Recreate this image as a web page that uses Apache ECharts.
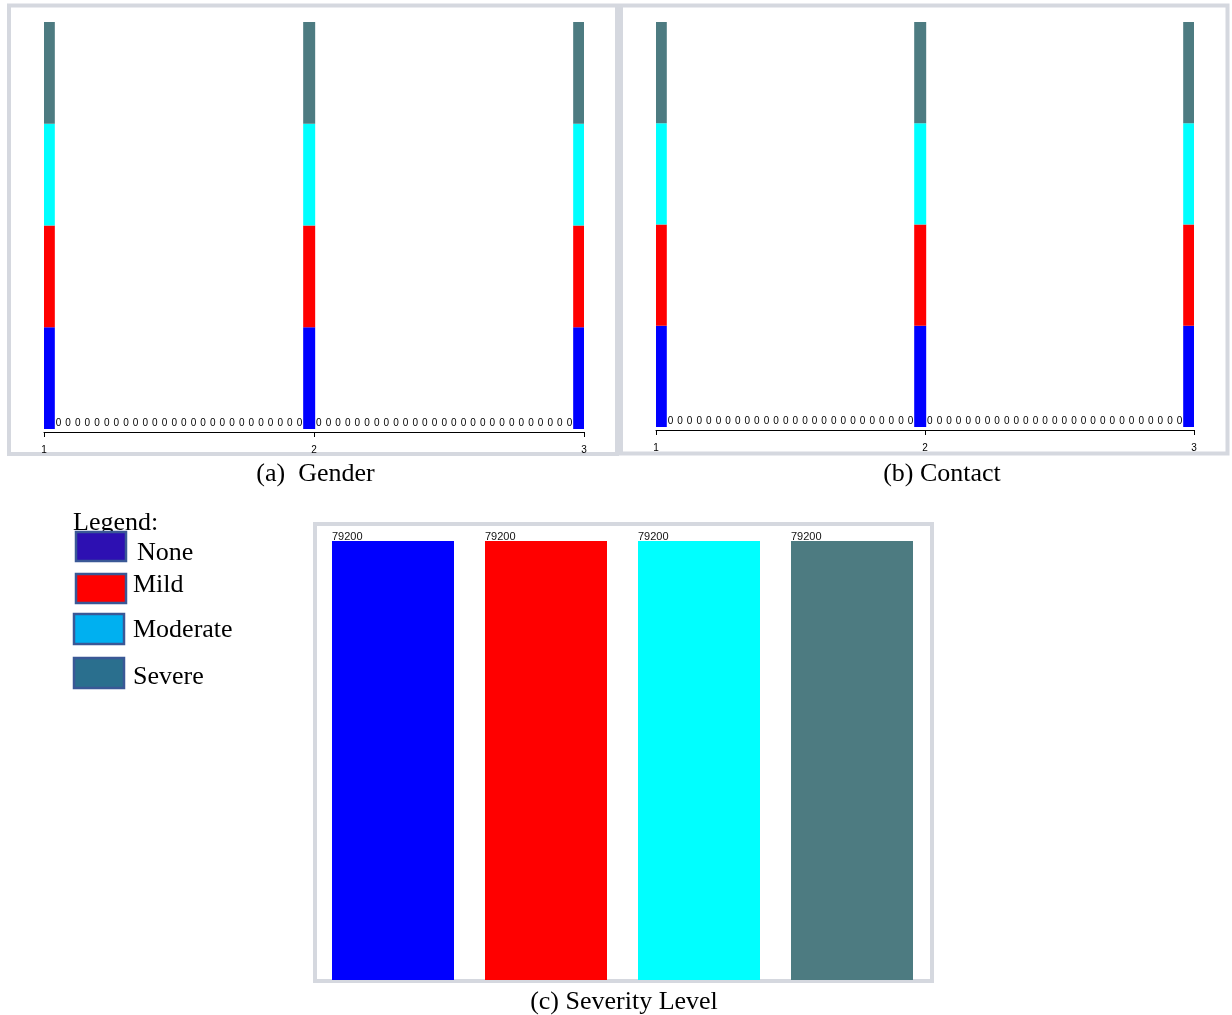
<!DOCTYPE html>
<html>
<head>
<meta charset="utf-8">
<title>Severity by Gender / Contact</title>
<script src="https://cdn.jsdelivr.net/npm/echarts@6/dist/echarts.min.js"></script>
<style>
  html, body { margin: 0; padding: 0; background: #fff; }
  #main { width: 1232px; height: 1015px; }
</style>
</head>
<body>
<div id="main"></div>
<script>
  // tick labels of the two histograms
  const groupLabels = ['1', '2', '3']

  // bin counts (56 bins between 1 and 3), one array per severity level
  const genderNone = [26400,
    0, 0, 0, 0, 0, 0, 0, 0, 0, 0, 0, 0, 0, 0, 0, 0, 0, 0, 0, 0, 0, 0, 0, 0, 0, 0,
    26400,
    0, 0, 0, 0, 0, 0, 0, 0, 0, 0, 0, 0, 0, 0, 0, 0, 0, 0, 0, 0, 0, 0, 0, 0, 0, 0, 0,
    26400]
  const genderMild = [26400,
    0, 0, 0, 0, 0, 0, 0, 0, 0, 0, 0, 0, 0, 0, 0, 0, 0, 0, 0, 0, 0, 0, 0, 0, 0, 0,
    26400,
    0, 0, 0, 0, 0, 0, 0, 0, 0, 0, 0, 0, 0, 0, 0, 0, 0, 0, 0, 0, 0, 0, 0, 0, 0, 0, 0,
    26400]
  const genderModerate = [26400,
    0, 0, 0, 0, 0, 0, 0, 0, 0, 0, 0, 0, 0, 0, 0, 0, 0, 0, 0, 0, 0, 0, 0, 0, 0, 0,
    26400,
    0, 0, 0, 0, 0, 0, 0, 0, 0, 0, 0, 0, 0, 0, 0, 0, 0, 0, 0, 0, 0, 0, 0, 0, 0, 0, 0,
    26400]
  const genderSevere = [26400,
    0, 0, 0, 0, 0, 0, 0, 0, 0, 0, 0, 0, 0, 0, 0, 0, 0, 0, 0, 0, 0, 0, 0, 0, 0, 0,
    26400,
    0, 0, 0, 0, 0, 0, 0, 0, 0, 0, 0, 0, 0, 0, 0, 0, 0, 0, 0, 0, 0, 0, 0, 0, 0, 0, 0,
    26400]

  const contactNone = [26400,
    0, 0, 0, 0, 0, 0, 0, 0, 0, 0, 0, 0, 0, 0, 0, 0, 0, 0, 0, 0, 0, 0, 0, 0, 0, 0,
    26400,
    0, 0, 0, 0, 0, 0, 0, 0, 0, 0, 0, 0, 0, 0, 0, 0, 0, 0, 0, 0, 0, 0, 0, 0, 0, 0, 0,
    26400]
  const contactMild = [26400,
    0, 0, 0, 0, 0, 0, 0, 0, 0, 0, 0, 0, 0, 0, 0, 0, 0, 0, 0, 0, 0, 0, 0, 0, 0, 0,
    26400,
    0, 0, 0, 0, 0, 0, 0, 0, 0, 0, 0, 0, 0, 0, 0, 0, 0, 0, 0, 0, 0, 0, 0, 0, 0, 0, 0,
    26400]
  const contactModerate = [26400,
    0, 0, 0, 0, 0, 0, 0, 0, 0, 0, 0, 0, 0, 0, 0, 0, 0, 0, 0, 0, 0, 0, 0, 0, 0, 0,
    26400,
    0, 0, 0, 0, 0, 0, 0, 0, 0, 0, 0, 0, 0, 0, 0, 0, 0, 0, 0, 0, 0, 0, 0, 0, 0, 0, 0,
    26400]
  const contactSevere = [26400,
    0, 0, 0, 0, 0, 0, 0, 0, 0, 0, 0, 0, 0, 0, 0, 0, 0, 0, 0, 0, 0, 0, 0, 0, 0, 0,
    26400,
    0, 0, 0, 0, 0, 0, 0, 0, 0, 0, 0, 0, 0, 0, 0, 0, 0, 0, 0, 0, 0, 0, 0, 0, 0, 0, 0,
    26400]

  // severity level totals
  const severityLevels = ['None', 'Mild', 'Moderate', 'Severe']
  const severityCounts = [79200, 79200, 79200, 79200]

  // legend box (drawn by hand, colours differ from the bars)
  const legendNames = ['None', 'Mild', 'Moderate', 'Severe']
  const legendColors = ['#2d10b2', '#ff0000', '#00b0f0', '#2a6f8e']

  const barColors = ['#0000ff', '#ff0000', '#00ffff', '#4d7b81']
  const serif = '"Liberation Serif", "Times New Roman", serif'
  const sans = '"Liberation Sans", Arial, sans-serif'

  const chart = echarts.init(document.getElementById('main'))

  function binAxis(gridIndex, len) {
    return {
      type: 'category',
      gridIndex: gridIndex,
      show: false,
      data: Array.from({ length: len }, (v, i) => i)
    }
  }

  function tickAxis(gridIndex) {
    return {
      type: 'category',
      gridIndex: gridIndex,
      position: 'bottom',
      offset: 3,
      boundaryGap: false,
      data: groupLabels,
      axisLine: { lineStyle: { color: '#000', width: 1 } },
      axisTick: { length: 5, lineStyle: { color: '#000' } },
      axisLabel: { fontSize: 10, color: '#000', margin: 13, fontFamily: sans },
      splitLine: { show: false }
    }
  }

  function stackSeries(xIdx, yIdx, stack, arrays) {
    return arrays.map((arr, k) => ({
      name: severityLevels[k],
      type: 'bar',
      xAxisIndex: xIdx,
      yAxisIndex: yIdx,
      stack: stack,
      barWidth: 12,
      data: arr,
      itemStyle: { color: barColors[k] },
      label: k === 0 ? {
        show: true,
        position: 'top',
        distance: 1,
        fontSize: 10,
        color: '#000',
        fontFamily: sans,
        formatter: p => (p.value === 0 ? '0' : '')
      } : { show: false }
    }))
  }

  const graphic = [
    { type: 'rect', shape: { x: 9, y: 5.5, width: 608, height: 448.5 },
      style: { fill: 'none', stroke: '#d5d8df', lineWidth: 4 } },
    { type: 'rect', shape: { x: 621, y: 5.5, width: 606.5, height: 448 },
      style: { fill: 'none', stroke: '#d5d8df', lineWidth: 4 } },
    { type: 'rect', shape: { x: 315, y: 524, width: 617, height: 457 },
      style: { fill: 'none', stroke: '#d5d8df', lineWidth: 4 } },
    { type: 'text', x: 315.5, y: 474,
      style: { text: '(a)  Gender', font: '26px ' + serif, fill: '#000', align: 'center', verticalAlign: 'middle' } },
    { type: 'text', x: 942, y: 474,
      style: { text: '(b) Contact', font: '26px ' + serif, fill: '#000', align: 'center', verticalAlign: 'middle' } },
    { type: 'text', x: 624, y: 1002,
      style: { text: '(c) Severity Level', font: '26px ' + serif, fill: '#000', align: 'center', verticalAlign: 'middle' } },
    { type: 'text', x: 73, y: 523,
      style: { text: 'Legend:', font: '26px ' + serif, fill: '#000', align: 'left', verticalAlign: 'middle' } }
  ]
  const swatchBoxes = [[76, 532, 50, 29], [76, 574, 50, 29], [74, 614, 50, 30], [74, 658, 50, 30]]
  const labelPos = [[137, 553], [133, 585], [133, 630], [133, 677]]
  legendNames.forEach((name, i) => {
    const b = swatchBoxes[i]
    graphic.push({
      type: 'rect',
      shape: { x: b[0], y: b[1], width: b[2], height: b[3] },
      style: { fill: legendColors[i], stroke: '#3a5896', lineWidth: 2.5 }
    })
    graphic.push({
      type: 'text', x: labelPos[i][0], y: labelPos[i][1],
      style: { text: name, font: '26px ' + serif, fill: '#000', align: 'left', verticalAlign: 'middle' }
    })
  })

  chart.setOption({
    backgroundColor: '#fff',
    animation: false,
    grid: [
      { left: 44, width: 540, top: 22, height: 407 },
      { left: 656, width: 538, top: 22, height: 405 },
      { left: 316.5, width: 612, top: 541, height: 439 }
    ],
    xAxis: [
      binAxis(0, genderNone.length),
      tickAxis(0),
      binAxis(1, contactNone.length),
      tickAxis(1),
      { type: 'category', gridIndex: 2, show: false, data: severityLevels }
    ],
    yAxis: [
      { type: 'value', gridIndex: 0, show: false, min: 0, max: 105600, splitLine: { show: false } },
      { type: 'value', gridIndex: 1, show: false, min: 0, max: 105600, splitLine: { show: false } },
      { type: 'value', gridIndex: 2, show: false, min: 0, max: 79200, splitLine: { show: false } }
    ],
    series: [
      ...stackSeries(0, 0, 'gender', [genderNone, genderMild, genderModerate, genderSevere]),
      ...stackSeries(2, 1, 'contact', [contactNone, contactMild, contactModerate, contactSevere]),
      {
        name: 'Severity Level',
        type: 'bar',
        xAxisIndex: 4,
        yAxisIndex: 2,
        barWidth: 122,
        data: severityCounts.map((v, i) => ({ value: v, itemStyle: { color: barColors[i] } })),
        label: {
          show: true,
          position: [0, -10],
          fontSize: 11,
          color: '#111',
          fontFamily: sans
        }
      }
    ],
    graphic: graphic
  })
</script>
</body>
</html>
